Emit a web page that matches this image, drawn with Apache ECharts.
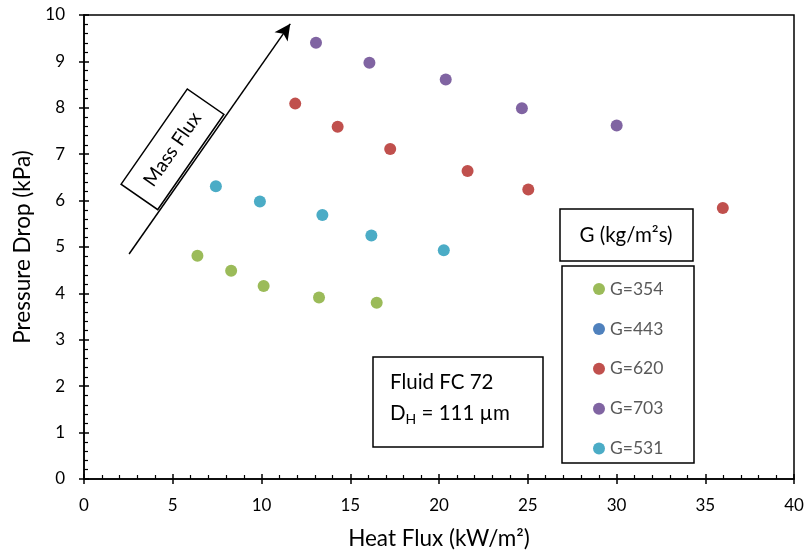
<!DOCTYPE html>
<html>
<head>
<meta charset="utf-8">
<script src="https://cdn.jsdelivr.net/npm/echarts@6/dist/echarts.min.js"></script>
<style>
  html, body { margin: 0; padding: 0; background: #fff; }
  #chart { width: 806px; height: 554px; }
</style>
</head>
<body>
<div id="chart"></div>
<script>
// heat flux (kW/m2), pressure drop (kPa)
const g354 = [[6.39, 4.81], [8.29, 4.49], [10.12, 4.16], [13.24, 3.91], [16.49, 3.80]];
const g443 = [];
const g620 = [[11.90, 8.09], [14.29, 7.59], [17.25, 7.11], [21.61, 6.64], [25.03, 6.24], [35.99, 5.84]];
const g703 = [[13.07, 9.40], [16.08, 8.97], [20.38, 8.61], [24.67, 7.99], [30.01, 7.62]];
const g531 = [[7.43, 6.31], [9.91, 5.98], [13.43, 5.69], [16.19, 5.25], [20.27, 4.93]];

const seriesNames = ["G=354", "G=443", "G=620", "G=703", "G=531"];
const seriesData = [g354, g443, g620, g703, g531];
const colors = ["#9BBB59", "#4F81BD", "#C0504D", "#8064A2", "#4BACC6"];

// arrow showing increasing mass flux, in data coords
const arrowFrom = [2.54, 4.85];
const arrowTo = [11.62, 9.81];

const FONT = "Lato";

var myChart = echarts.init(document.getElementById("chart"));

var series = seriesNames.map(function (name, i) {
  return {
    name: name,
    type: "scatter",
    data: seriesData[i],
    symbolSize: 12,
    itemStyle: { color: colors[i], opacity: 1 },
  };
});
series[0].markLine = {
  silent: true,
  animation: false,
  symbol: ["none", "arrow"],
  symbolSize: [12, 16],
  label: { show: false },
  lineStyle: { color: "#000", width: 1.5, type: "solid" },
  itemStyle: { color: "#000" },
  data: [[{ coord: arrowFrom }, { coord: arrowTo }]],
};

var baseAxis = {
  type: "value",
  axisLine: { show: true, lineStyle: { color: "#000", width: 1.5 } },
  splitLine: { show: false },
};

var option = {
  animation: false,
  textStyle: { fontFamily: FONT },
  color: colors,
  grid: {
    left: 84,
    right: 12,
    top: 15,
    bottom: 75,
    outerBoundsMode: "none",
    containLabel: false,
    show: true,
    borderColor: "#000",
    borderWidth: 1.5,
    backgroundColor: "transparent",
  },
  xAxis: [
    Object.assign({}, baseAxis, {
      min: 0,
      max: 40,
      interval: 5,
      position: "bottom",
      name: "Heat Flux (kW/m²)",
      nameLocation: "middle",
      nameGap: 48,
      nameTextStyle: { fontSize: 22.5, color: "#000", fontFamily: FONT },
      axisTick: { show: true, inside: false, length: 5, lineStyle: { color: "#000", width: 1.5 } },
      axisLabel: { fontSize: 17, color: "#000", margin: 18, fontFamily: FONT },
    }),
    Object.assign({}, baseAxis, {
      min: 0,
      max: 40,
      interval: 5,
      position: "bottom",
      axisLine: { show: false },
      axisTick: { show: true, inside: true, length: 5, lineStyle: { color: "#000", width: 1.5 } },
      minorTick: { show: true, splitNumber: 5, length: 4, lineStyle: { color: "#000", width: 1.2 } },
      axisLabel: { show: false },
    }),
  ],
  yAxis: [
    Object.assign({}, baseAxis, {
      min: 0,
      max: 10,
      interval: 1,
      position: "left",
      name: "Pressure Drop (kPa)",
      nameLocation: "middle",
      nameGap: 48,
      nameTextStyle: { fontSize: 22.5, color: "#000", fontFamily: FONT },
      axisTick: { show: true, inside: false, length: 5, lineStyle: { color: "#000", width: 1.5 } },
      axisLabel: { fontSize: 17, color: "#000", margin: 19, fontFamily: FONT },
    }),
    Object.assign({}, baseAxis, {
      min: 0,
      max: 10,
      interval: 1,
      position: "left",
      axisLine: { show: false },
      axisTick: { show: true, inside: true, length: 5, lineStyle: { color: "#000", width: 1.5 } },
      minorTick: { show: true, splitNumber: 5, length: 4, lineStyle: { color: "#000", width: 1.2 } },
      axisLabel: { show: false },
    }),
  ],
  legend: {
    orient: "vertical",
    left: 588,
    top: 275,
    padding: 5,
    icon: "circle",
    itemWidth: 12,
    itemHeight: 12,
    itemGap: 21.9,
    data: seriesNames,
    textStyle: { fontSize: 17.5, color: "#595959", fontFamily: FONT, lineHeight: 16 },
  },
  graphic: [
    {
      type: "rect",
      shape: { x: 560, y: 209, width: 133, height: 52 },
      style: { fill: "#fff", stroke: "#000", lineWidth: 1.5 },
      z: 5,
    },
    {
      type: "text",
      x: 626,
      y: 235,
      style: {
        text: "G (kg/m²s)",
        font: "20.5px " + FONT,
        fill: "#000",
        align: "center",
        verticalAlign: "middle",
      },
      z: 6,
    },
    {
      type: "rect",
      shape: { x: 562, y: 266, width: 132, height: 197 },
      style: { fill: "none", stroke: "#000", lineWidth: 1.5 },
      z: 5,
    },
    {
      type: "rect",
      shape: { x: 373, y: 357, width: 170, height: 90 },
      style: { fill: "#fff", stroke: "#000", lineWidth: 1.5 },
      z: 5,
    },
    {
      type: "text",
      x: 390,
      y: 382,
      style: {
        text: "Fluid FC 72",
        font: "20.5px " + FONT,
        fill: "#000",
        verticalAlign: "middle",
      },
      z: 6,
    },
    {
      type: "text",
      x: 390,
      y: 413,
      style: {
        text: "{d|D}{h|H}{d| = 111 µm}",
        verticalAlign: "middle",
        rich: {
          d: { fontSize: 20.5, fontFamily: FONT, fill: "#000", lineHeight: 26, verticalAlign: "middle" },
          h: { fontSize: 14, fontFamily: FONT, fill: "#000", lineHeight: 26, verticalAlign: "bottom" },
        },
      },
      z: 6,
    },
    {
      type: "group",
      x: 172.5,
      y: 149.3,
      rotation: (55.2 * Math.PI) / 180,
      z: 6,
      children: [
        {
          type: "rect",
          shape: { x: -58, y: -22.3, width: 116, height: 44.6 },
          style: { fill: "#fff", stroke: "#000", lineWidth: 1.5 },
        },
        {
          type: "text",
          x: 0,
          y: 0,
          style: {
            text: "Mass Flux",
            font: "19.5px " + FONT,
            fill: "#000",
            align: "center",
            verticalAlign: "middle",
          },
        },
      ],
    },
  ],
  series: series,
};

myChart.setOption(option);
</script>
</body>
</html>
